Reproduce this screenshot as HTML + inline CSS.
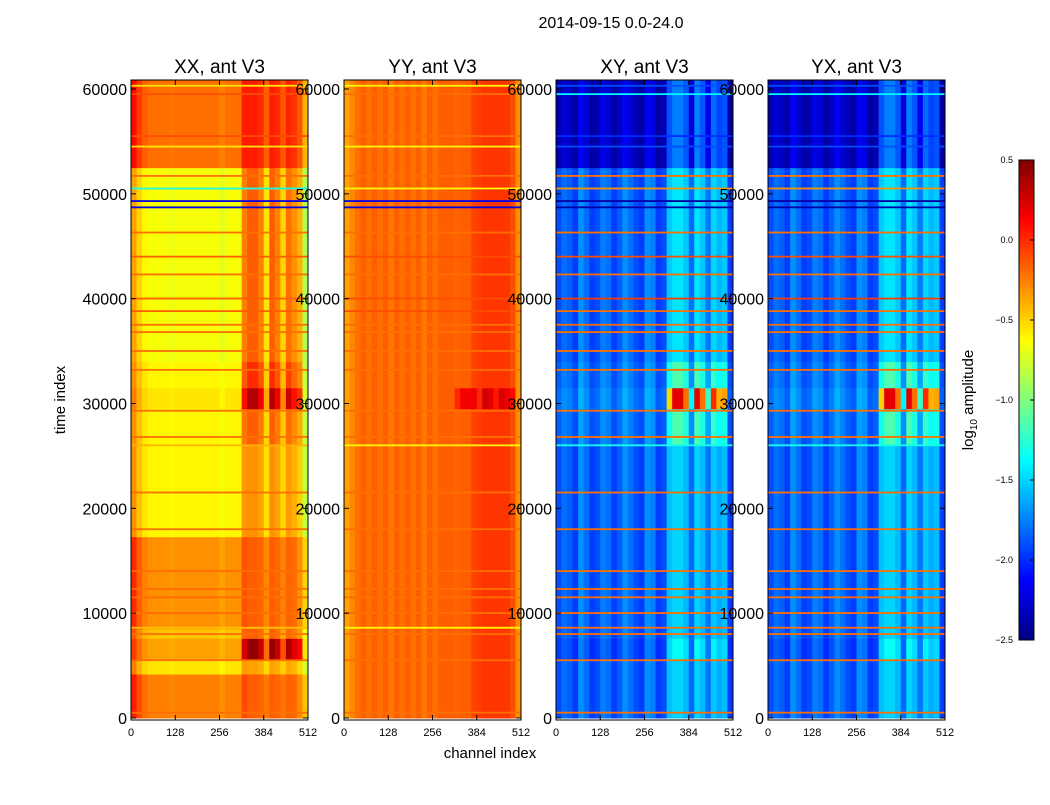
<!DOCTYPE html>
<html><head><meta charset="utf-8"><style>
body{margin:0;background:#fff;}
svg text{font-family:"Liberation Sans","DejaVu Sans",sans-serif;}
</style></head><body>
<svg id="c" width="1050" height="800" xmlns="http://www.w3.org/2000/svg"></svg>
<script>
// ---- data ----
const panelTitles = ["XX, ant V3","YY, ant V3","XY, ant V3","YX, ant V3"];
const bandEdges = [0,4200,5500,7600,8500,17300,26000,29500,31500,34000,52500,61000];
const baseXX = [-0.25,-0.55,-0.35,-0.45,-0.3,-0.6,-0.6,-0.55,-0.6,-0.65,-0.2];
const hotXX  = [0.1,0.2,0.8,0.3,0.15,0.3,0.45,0.9,0.6,0.5,0.25];
const baseYY = [-0.15,-0.15,-0.15,-0.15,-0.15,-0.15,-0.15,-0.15,-0.15,-0.15,-0.15];
const hotYY  = [0,0,0,0,0,0,0,0.3,0,0,0];
const baseXY = [-1.9,-1.9,-1.95,-1.9,-1.9,-1.9,-1.85,-1.8,-1.85,-1.9,-2.35];
const hotXY  = [0.4,0.4,0.6,0.4,0.4,0.4,0.7,2.0,0.7,0.45,0.6];
const colOffXX = [0.3,0.15,0.05,0,0,0,0,-0.02,0,0,0,0,0,0,0,0,-0.05,0,0,0,0.1,0,0,0,0,0,0,0,0,0,-0.1,-0.2];
const colOffYY = [-0.2,-0.12,-0.05,0,-0.05,0,-0.05,0,-0.08,0,-0.05,0,-0.05,0,-0.08,0,-0.05,0,0,0,-0.02,0,0,0.08,0.1,0.12,0.12,0.12,0.12,0.12,0.05,-0.15];
const colOffXY = [0,0.1,0.05,-0.05,0.2,0.1,-0.05,0,0.15,0.1,-0.05,0.05,0.2,0.1,0,-0.05,0.2,0.15,-0.05,0,0.1,0,0,0,0,0,0,0,0,0,0.05,-0.05];
const hotMask = [0,0,0,0,0,0,0,0,0,0,0,0,0,0,0,0,0,0,0,0,0.6,1,1,0.8,0.2,1,0.8,0.3,0.9,0.7,0.7,0];
const lineTimes  = [500,5500,8000,8600,10000,11500,12300,14000,18000,21500,26000,26800,29300,33200,35000,36800,37500,38800,40000,42300,44000,46300,48700,49300,50500,51700,54500,55500,59500,60300];
const lineValsXX = [-0.2,-0.2,-0.2,-0.45,-0.2,-0.2,-0.2,-0.2,-0.2,-0.2,-0.4,-0.2,-0.2,-0.2,-0.2,-0.2,-0.2,-0.15,-0.15,-0.2,-0.15,-0.2,-2.2,-2.2,-1.3,-0.2,-0.55,-0.1,-0.1,-0.55];
const lineValsYY = [-0.2,-0.2,-0.2,-0.6,-0.2,-0.2,-0.2,-0.2,-0.2,-0.2,-0.6,-0.2,-0.2,-0.2,-0.2,-0.2,-0.2,-0.1,-0.1,-0.2,-0.1,-0.2,-2.2,-2.2,-0.6,-0.2,-0.6,-0.2,-0.2,-0.6];
const lineValsXY = [-0.2,-0.2,-0.2,-0.2,-0.2,-0.2,-0.2,-0.2,-0.2,-0.2,-1.3,-0.2,-0.2,-0.2,-0.2,-0.2,-0.2,-0.2,-0.05,-0.2,-0.1,-0.2,-2.4,-2.4,-0.3,-0.2,-1.9,-2.0,-1.4,-1.9];
const yTicks = [0,10000,20000,30000,40000,50000,60000];
const xTicks = [0,128,256,384,512];
const cbTicks = [0.5,0.0,-0.5,-1.0,-1.5,-2.0,-2.5];

const panelData = [
 {base:baseXX,hot:hotXX,col:colOffXX,lines:lineValsXX},
 {base:baseYY,hot:hotYY,col:colOffYY,lines:lineValsYY},
 {base:baseXY,hot:hotXY,col:colOffXY,lines:lineValsXY},
 {base:baseXY,hot:hotXY,col:colOffXY,lines:lineValsXY}];
const panelX = [131,344,556,768], PW=177, PT=80, PB=720;
const VMIN=-2.5, VMAX=0.5;
function yS(t){return 718 - t*(629/60000);}
function xS(p,ch){return panelX[p] + ch*PW/512;}
function jet(v){
 let x=(v-VMIN)/(VMAX-VMIN); x=Math.max(0,Math.min(1,x));
 const f=(a)=>Math.max(0,Math.min(1,a));
 const r=f(Math.min(4*x-1.5,-4*x+4.5)), g=f(Math.min(4*x-0.5,-4*x+3.5)), b=f(Math.min(4*x+0.5,-4*x+2.5));
 return `rgb(${Math.round(r*255)},${Math.round(g*255)},${Math.round(b*255)})`;
}
const svg=document.getElementById('c'); const NS="http://www.w3.org/2000/svg";
function mk(tag,attrs,parent){const e=document.createElementNS(NS,tag);for(const k in attrs)e.setAttribute(k,attrs[k]);(parent||svg).appendChild(e);return e;}
function txt(s,attrs,parent){const e=mk('text',attrs,parent);e.textContent=s;return e;}

const st=txt("2014-09-15 0.0-24.0",{x:611,y:28,'font-size':16,'text-anchor':'middle'});



for(let p=0;p<4;p++){
 const g=mk('g',{});
 
 
 const d=panelData[p];
 const clip=mk('clipPath',{id:'cl'+p});
 mk('rect',{x:panelX[p],y:PT,width:PW,height:PB-PT},clip);
 const cells=mk('g',{'clip-path':`url(#cl${p})`},g);
 for(let b=0;b<bandEdges.length-1;b++){
  const y0=yS(bandEdges[b+1]), y1=yS(bandEdges[b]);
  for(let c=0;c<32;c++){
   const v=d.base[b]+d.col[c]+d.hot[b]*hotMask[c];
   const r=mk('rect',{x:xS(p,c*16),y:y0,width:PW/32+0.5,height:y1-y0+0.5,fill:jet(v)},cells);
   
   
  }
 }
 for(let i=0;i<lineTimes.length;i++){
  const r=mk('rect',{x:panelX[p],y:yS(lineTimes[i])-1,width:PW,height:1.8,fill:jet(d.lines[i])},cells);
  
  
 }
 mk('rect',{x:panelX[p],y:PT,width:PW,height:PB-PT,fill:'none',stroke:'#000','stroke-width':1},g);
 const t=txt(panelTitles[p],{x:panelX[p]+PW/2,y:73,'font-size':19,'text-anchor':'middle'},g);
 
 
 for(const yt of yTicks){
  const y=yS(yt);
  mk('line',{x1:panelX[p],x2:panelX[p]+5,y1:y,y2:y,stroke:'#000'},g);
  mk('line',{x1:panelX[p]+PW,x2:panelX[p]+PW-5,y1:y,y2:y,stroke:'#000'},g);
  const l=txt(String(yt),{x:panelX[p]-4,y:y+6,'font-size':16,'text-anchor':'end'},g);
  
  
 }
 for(const xt of xTicks){
  const x=xS(p,xt);
  mk('line',{x1:x,x2:x,y1:PB,y2:PB-5,stroke:'#000'},g);
  mk('line',{x1:x,x2:x,y1:PT,y2:PT+5,stroke:'#000'},g);
  const l=txt(String(xt),{x:x,y:736,'font-size':11,'text-anchor':'middle'},g);
  
  
 }
}
const yl=txt("time index",{x:0,y:0,'font-size':15,'text-anchor':'middle',transform:'translate(65,400) rotate(-90)'});


const xl=txt("channel index",{x:490,y:758,'font-size':15,'text-anchor':'middle'});



// colorbar
const cb=mk('g',{});


const CX=1019,CW=15,CT=160,CB=640;
const NSTEP=120;
for(let i=0;i<NSTEP;i++){
 const v=VMIN+(VMAX-VMIN)*(i+0.5)/NSTEP;
 const y=CB-(i+1)*(CB-CT)/NSTEP;
 mk('rect',{x:CX,y:y,width:CW,height:(CB-CT)/NSTEP+0.5,fill:jet(v)},cb);
}
mk('rect',{x:CX,y:CT,width:CW,height:CB-CT,fill:'none',stroke:'#000'},cb);
for(const v of cbTicks){
 const y=CB-(v-VMIN)/(VMAX-VMIN)*(CB-CT);
 mk('line',{x1:CX+CW,x2:CX+CW-4,y1:y,y2:y,stroke:'#000'},cb);
 const l=txt(v.toFixed(1).replace('-','\u2212'),{x:1013,y:y+3,'font-size':9,'text-anchor':'end'},cb);
 
 
}
const cl=mk('text',{x:0,y:0,'font-size':15,'text-anchor':'middle',transform:'translate(973,400) rotate(-90)'});
cl.innerHTML='log<tspan font-size="10" dy="4">10</tspan><tspan dy="-4"> amplitude</tspan>';


</script>
</body></html>
